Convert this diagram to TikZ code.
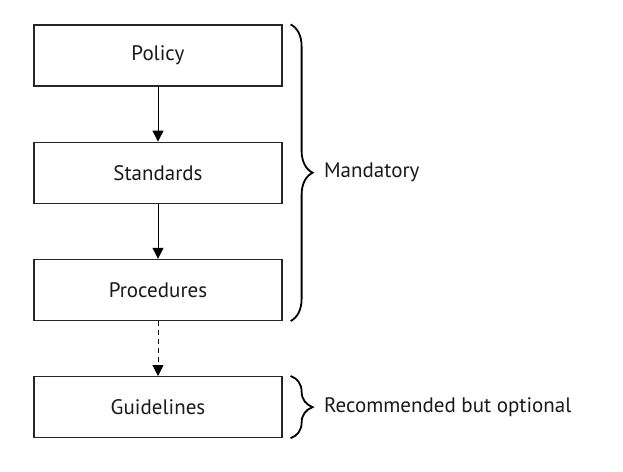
\documentclass[tikz,border=0pt]{standalone}
\usepackage{fontspec}
\setmainfont{PT Sans}
\usetikzlibrary{positioning,arrows.meta,decorations.pathreplacing}
\tikzset{
box/.style={
  draw=black!85,
  line width=1.2pt,
  rectangle,
  minimum width=248pt,
  minimum height=61pt,
  font=\fontsize{21}{24}\selectfont,
  text=black!90
},
flow/.style={-{Triangle[width=11pt,length=11pt]},line width=1pt},
bracelabel/.style={anchor=west,font=\fontsize{21}{24}\selectfont,text=black!90},
curly/.style={decorate,decoration={brace,amplitude=22pt},line width=1.8pt}
}
\begin{document}
\begin{tikzpicture}[x=1pt,y=1pt]
\useasboundingbox (0,0) rectangle (623,-471);
\node (policy) [box] at (158,-55.5) {Policy};
\node (standards) [box,below=55pt of policy] {Standards};
\node (procedures) [box,below=55pt of standards] {Procedures};
\node (guidelines) [box,below=55pt of procedures] {Guidelines};
% the arrows
\draw[flow] (policy) -- (standards);
\draw[flow] (standards) -- (procedures);
\draw[flow,dashed,dash pattern=on 5pt off 4pt] (procedures) -- (guidelines);
% the braces
\draw[curly] ([xshift=8pt]policy.north east) -- coordinate (mtip) ([xshift=8pt]procedures.south east);
\draw[curly] ([xshift=8pt]guidelines.north east) -- coordinate (rtip) ([xshift=8pt]guidelines.south east);
\node (mandatory) [bracelabel] at ([xshift=30pt]mtip) {Mandatory};
\node (recommended) [bracelabel] at ([xshift=30pt]rtip) {Recommended but optional};
\end{tikzpicture}
\end{document}
